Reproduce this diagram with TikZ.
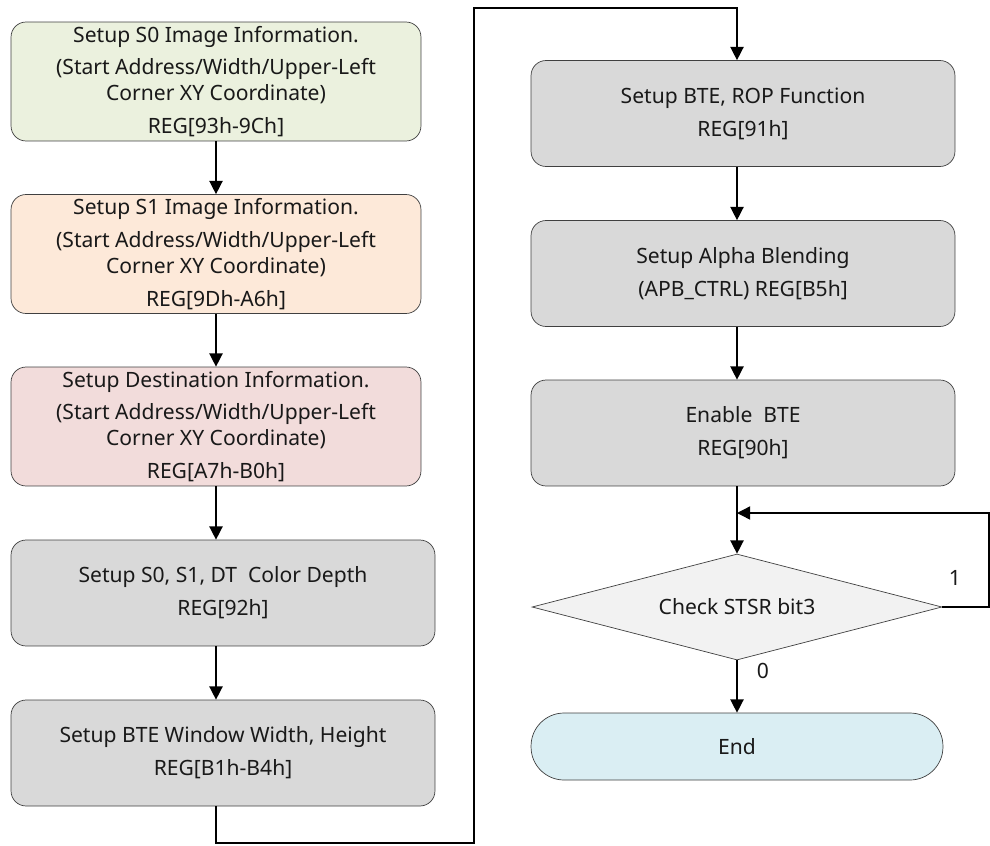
\documentclass[tikz,border=0pt]{standalone}
\usepackage{fontspec}
\setmainfont{Noto Sans}
\usetikzlibrary{shapes.geometric,arrows.meta}
\definecolor{boxgreen}{RGB}{235,241,222}
\definecolor{boxpeach}{RGB}{253,233,217}
\definecolor{boxpink}{RGB}{242,220,219}
\definecolor{boxgray}{RGB}{217,217,217}
\definecolor{boxlight}{RGB}{242,242,242}
\definecolor{boxblue}{RGB}{218,238,243}
\tikzset{
  stepbox/.style={draw=black!75, rounded corners=0.3cm, align=center, inner sep=0pt,
    text=black!90, font=\fontsize{12}{14.7}\selectfont},
  infobox/.style={stepbox, minimum width=8.2cm, minimum height=2.38cm},
  regbox/.style={stepbox, fill=boxgray, minimum width=8.48cm, minimum height=2.12cm},
  checkbox/.style={diamond, draw=black!75, fill=boxlight, inner sep=0pt, aspect=3.87,
    minimum width=8.2cm, minimum height=2.12cm, text=black!90, font=\fontsize{12}{14.7}\selectfont},
  endbox/.style={draw=black!75, fill=boxblue, rounded corners=0.66cm, text=black!90,
    minimum width=8.24cm, minimum height=1.34cm, font=\fontsize{12}{14.7}\selectfont},
  flow/.style={line width=0.8pt, -{Triangle[length=7.5pt,width=7.5pt]}},
  tag/.style={text=black!90, font=\fontsize{12}{14.7}\selectfont}
}
\begin{document}
\begin{tikzpicture}[x=0.02cm,y=-0.02cm]
    \useasboundingbox (0,0) rectangle (990,845);

    % left column
    \node[infobox, fill=boxgreen] (s0) at (216,81.5)
        {Setup S0 Image Information.\\[4pt](Start Address/Width/Upper-Left\\Corner XY Coordinate)\\[4pt]REG[93h-9Ch]};
    \node[infobox, fill=boxpeach] (s1) at (216,254)
        {Setup S1 Image Information.\\[4pt](Start Address/Width/Upper-Left\\Corner XY Coordinate)\\[4pt]REG[9Dh-A6h]};
    \node[infobox, fill=boxpink] (dest) at (216,426.5)
        {Setup Destination Information.\\[4pt](Start Address/Width/Upper-Left\\Corner XY Coordinate)\\[4pt]REG[A7h-B0h]};
    \node[regbox] (depth) at (223,593)
        {Setup S0, S1, DT\ \ Color Depth\\[4pt]REG[92h]};
    \node[regbox] (win) at (223,753)
        {Setup BTE Window Width, Height\\[4pt]REG[B1h-B4h]};

    % right column
    \node[regbox] (rop) at (743,113.5)
        {Setup BTE, ROP Function\\[4pt]REG[91h]};
    \node[regbox] (alpha) at (743,273.5)
        {Setup Alpha Blending\\[4pt](APB\_CTRL) REG[B5h]};
    \node[regbox] (enable) at (743,433)
        {Enable\ \ BTE\\[4pt]REG[90h]};
    \node[checkbox] (chk) at (737,607) {Check STSR bit3};
    \node[endbox] (done) at (737,746.5) {End};

    \node[tag] (one) at (955,578) {1};
    \node[tag] (zero) at (763,671) {0};

    \coordinate (lowturn) at (474,843);
    \coordinate (topturn) at (474,8);
    \coordinate (merge) at (737,513);
    \coordinate (edge) at (989,513);

    % connectors
    \draw[flow] (s0) -- (s1);
    \draw[flow] (s1) -- (dest);
    \draw[flow] (dest.south) -- (dest.south |- depth.north);
    \draw[flow] (dest.south |- depth.south) -- (dest.south |- win.north);
    \draw[flow] (dest.south |- win.south) -- (dest.south |- lowturn) -- (lowturn)
        -- (topturn) -- (chk.north |- topturn) -- (chk.north |- rop.north);
    \draw[flow] (chk.north |- rop.south) -- (chk.north |- alpha.north);
    \draw[flow] (chk.north |- alpha.south) -- (chk.north |- enable.north);
    \draw[flow] (chk.north |- enable.south) -- (chk.north);
    \draw[flow] (chk.east) -- (chk.east -| edge) -- (edge) -- (merge);
    \draw[flow] (chk.south) -- (done.north);
\end{tikzpicture}
\end{document}
